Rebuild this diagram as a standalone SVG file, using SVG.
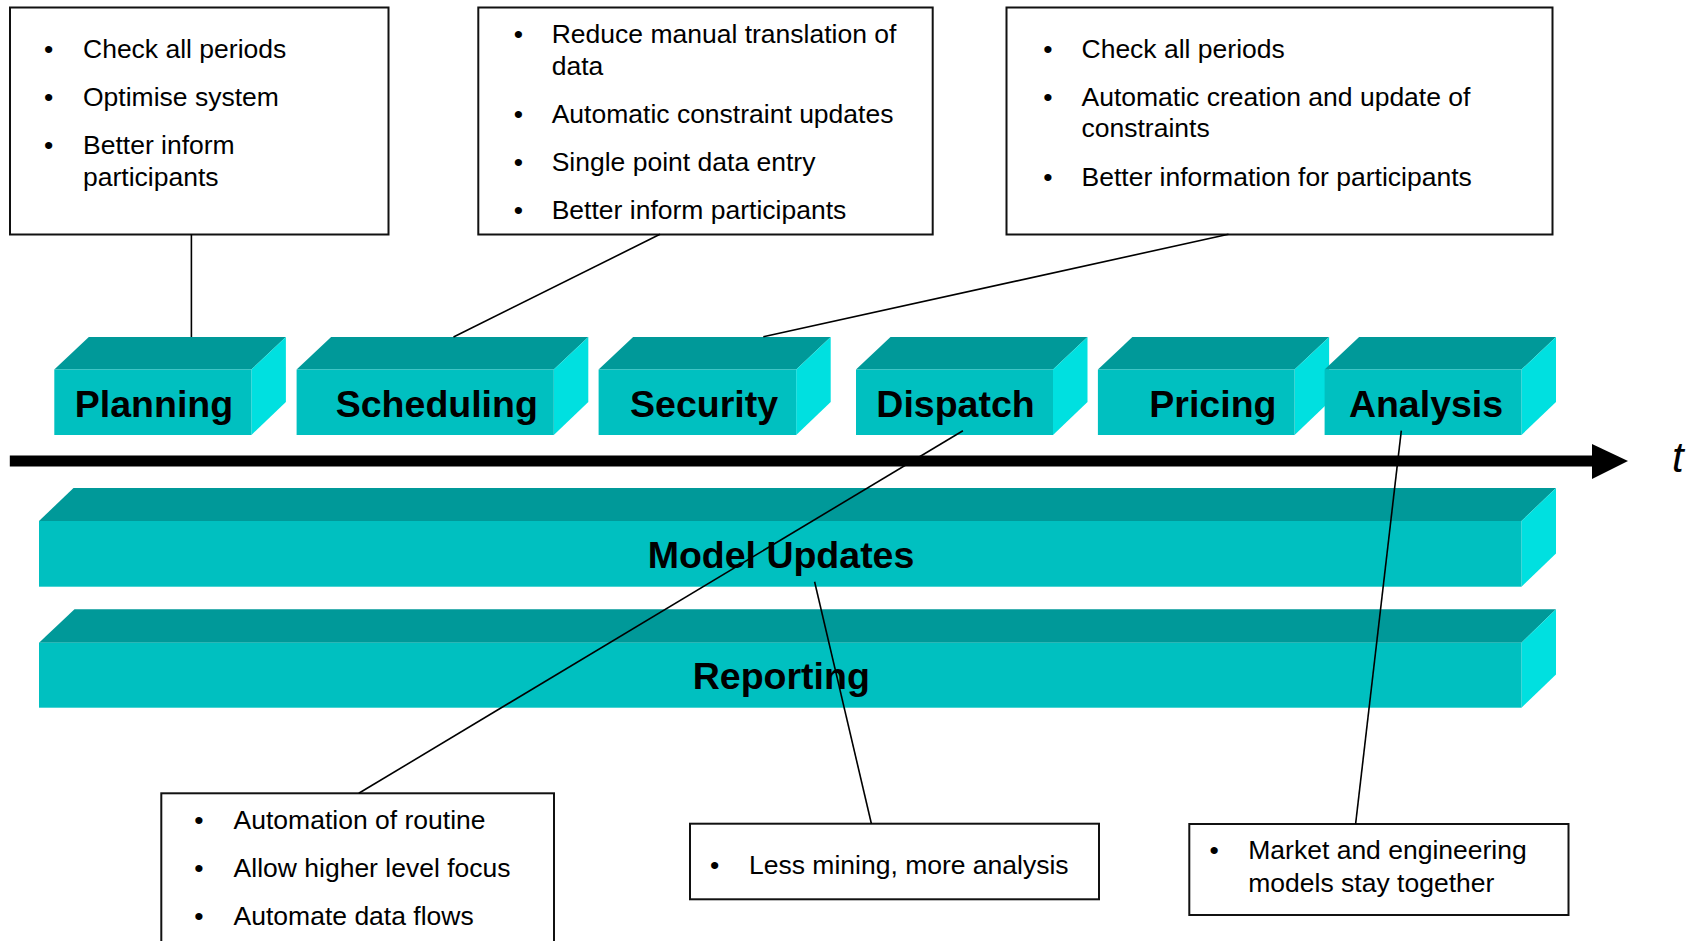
<svg xmlns="http://www.w3.org/2000/svg" width="1702" height="941" viewBox="0 0 1702 941">
<defs>
<style>
.box{fill:#fff;stroke:#111;stroke-width:2}
.t{font-family:"Liberation Sans",Arial,sans-serif;font-size:26.5px;fill:#000}
.b{font-family:"Liberation Sans",Arial,sans-serif;font-size:26.5px;fill:#000;text-anchor:middle}
.lbl{font-family:"Liberation Sans",Arial,sans-serif;font-size:37.5px;font-weight:bold;fill:#000;text-anchor:middle}
.front{fill:#00C0C0}
.top{fill:#009999}
.side{fill:#00E0E0}
.conn{stroke:#000;stroke-width:1.6;fill:none}
</style>
</defs>
<rect width="1702" height="941" fill="#fff"/>

<g id="note-planning">
<rect class="box" x="10" y="7.5" width="378.5" height="227"/>
<text class="b" x="48.6" y="58.3">•</text><text class="t" x="83" y="58.3">Check all periods</text>
<text class="b" x="48.6" y="106">•</text><text class="t" x="83" y="106">Optimise system</text>
<text class="b" x="48.6" y="154">•</text><text class="t" x="83" y="154">Better inform</text>
<text class="t" x="83" y="185.5">participants</text>
</g>

<g id="note-scheduling">
<rect class="box" x="478.3" y="7.5" width="454.4" height="227"/>
<text class="b" x="518.3" y="43.3">•</text><text class="t" x="551.7" y="43.3">Reduce manual translation of</text>
<text class="t" x="551.7" y="75">data</text>
<text class="b" x="518.3" y="123.3">•</text><text class="t" x="551.7" y="123.3">Automatic constraint updates</text>
<text class="b" x="518.3" y="170.7">•</text><text class="t" x="551.7" y="170.7">Single point data entry</text>
<text class="b" x="518.3" y="219">•</text><text class="t" x="551.7" y="219">Better inform participants</text>
</g>

<g id="note-security">
<rect class="box" x="1006.5" y="7.5" width="546" height="227"/>
<text class="b" x="1047.8" y="58.3">•</text><text class="t" x="1081.5" y="58.3">Check all periods</text>
<text class="b" x="1047.8" y="106">•</text><text class="t" x="1081.5" y="106">Automatic creation and update of</text>
<text class="t" x="1081.5" y="137.3">constraints</text>
<text class="b" x="1047.8" y="185.7">•</text><text class="t" x="1081.5" y="185.7">Better information for participants</text>
</g>

<g id="block-planning">
<polygon class="top" points="54.3,369.5 88.8,337 285.9,337 251.4,369.5"/>
<polygon class="side" points="251.4,369.5 285.9,337 285.9,402 251.4,435"/>
<rect class="front" x="54.3" y="369.5" width="197.1" height="65.5"/>
<text class="lbl" x="154" y="417">Planning</text>
</g>

<g id="block-scheduling">
<polygon class="top" points="296.6,369.5 331.1,337 588.3,337 553.8,369.5"/>
<polygon class="side" points="553.8,369.5 588.3,337 588.3,402 553.8,435"/>
<rect class="front" x="296.6" y="369.5" width="257.2" height="65.5"/>
<text class="lbl" x="436.8" y="417">Scheduling</text>
</g>

<g id="block-security">
<polygon class="top" points="598.6,369.5 633.1,337 830.7,337 796.2,369.5"/>
<polygon class="side" points="796.2,369.5 830.7,337 830.7,402 796.2,435"/>
<rect class="front" x="598.6" y="369.5" width="197.6" height="65.5"/>
<text class="lbl" x="704.1" y="417">Security</text>
</g>

<g id="block-dispatch">
<polygon class="top" points="856,369.5 890.5,337 1087.5,337 1053,369.5"/>
<polygon class="side" points="1053,369.5 1087.5,337 1087.5,402 1053,435"/>
<rect class="front" x="856" y="369.5" width="197" height="65.5"/>
<text class="lbl" x="955.5" y="417">Dispatch</text>
</g>

<g id="block-pricing">
<polygon class="top" points="1097.9,369.5 1132.4,337 1329.1,337 1294.6,369.5"/>
<polygon class="side" points="1294.6,369.5 1329.1,337 1329.1,402 1294.6,435"/>
<rect class="front" x="1097.9" y="369.5" width="196.7" height="65.5"/>
<text class="lbl" x="1212.9" y="417">Pricing</text>
</g>

<g id="block-analysis">
<polygon class="top" points="1324.6,369.5 1359.1,337 1556,337 1521.5,369.5"/>
<polygon class="side" points="1521.5,369.5 1556,337 1556,402 1521.5,435"/>
<rect class="front" x="1324.6" y="369.5" width="196.9" height="65.5"/>
<text class="lbl" x="1426" y="417">Analysis</text>
</g>

<g id="time-axis">
<rect x="9.8" y="455.5" width="1583" height="11" fill="#000"/>
<polygon points="1592,444 1628,461 1592,479" fill="#000"/>
<text x="1672" y="471.7" font-family="Liberation Sans, Arial, sans-serif" font-size="42" font-style="italic" fill="#000">t</text>
</g>

<g id="bar-model-updates">
<polygon class="top" points="39,521 73.5,488 1556,488 1521.5,521"/>
<polygon class="side" points="1521.5,521 1556,488 1556,553.5 1521.5,586.7"/>
<rect class="front" x="39" y="521" width="1482.5" height="65.7"/>
<text class="lbl" x="781" y="567.6">Model Updates</text>
</g>

<g id="bar-reporting">
<polygon class="top" points="39,642.7 74.5,609.3 1556,609.3 1521.5,642.7"/>
<polygon class="side" points="1521.5,642.7 1556,609.3 1556,674.5 1521.5,707.7"/>
<rect class="front" x="39" y="642.7" width="1482.5" height="65"/>
<text class="lbl" x="781.3" y="688.6">Reporting</text>
</g>

<g id="note-dispatch">
<rect class="box" x="161.3" y="793.3" width="392.7" height="160"/>
<text class="b" x="199" y="829.3">•</text><text class="t" x="233.6" y="829.3">Automation of routine</text>
<text class="b" x="199" y="877.3">•</text><text class="t" x="233.6" y="877.3">Allow higher level focus</text>
<text class="b" x="199" y="925">•</text><text class="t" x="233.6" y="925">Automate data flows</text>
</g>

<g id="note-model-updates">
<rect class="box" x="690" y="823.7" width="409" height="75.6"/>
<text class="b" x="714.7" y="874">•</text><text class="t" x="749" y="874">Less mining, more analysis</text>
</g>

<g id="note-analysis">
<rect class="box" x="1189.3" y="824" width="379.2" height="91"/>
<text class="b" x="1214.2" y="859.3">•</text><text class="t" x="1248.3" y="859.3">Market and engineering</text>
<text class="t" x="1248.3" y="891.7">models stay together</text>
</g>

<g id="connectors">
<line class="conn" x1="191.4" y1="234.3" x2="191.4" y2="337"/>
<line class="conn" x1="660" y1="234.3" x2="453.5" y2="337"/>
<line class="conn" x1="1228.5" y1="234.3" x2="763.3" y2="336.7"/>
<line class="conn" x1="962.9" y1="430.7" x2="358.8" y2="793.3"/>
<line class="conn" x1="814.6" y1="581.7" x2="871.4" y2="823.7"/>
<line class="conn" x1="1401.3" y1="430.7" x2="1355.6" y2="824"/>
</g>
</svg>
